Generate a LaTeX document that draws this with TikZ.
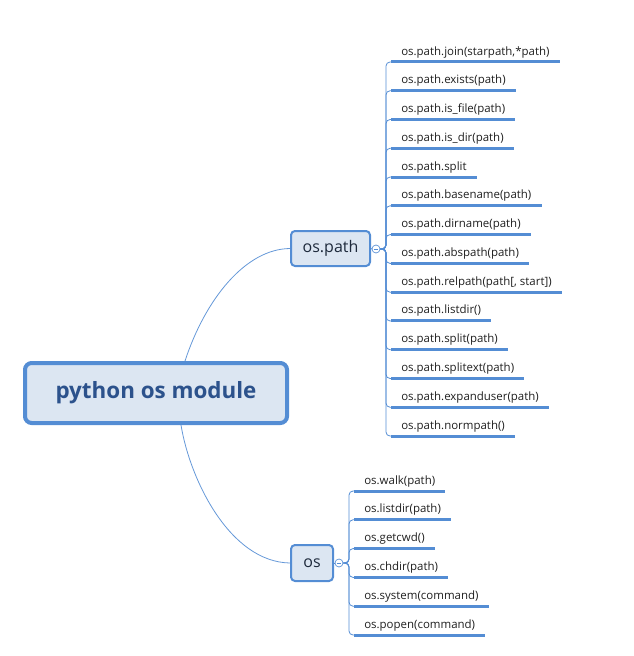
\documentclass[tikz,border=0pt]{standalone}
\usepackage{fontspec}
\setmainfont{Open Sans}
\usetikzlibrary{positioning}
\definecolor{border}{RGB}{84, 141, 212}
\definecolor{light}{RGB}{220, 230, 242}
\definecolor{deep}{RGB}{44, 82, 140}
\definecolor{ink}{RGB}{30, 42, 60}

\tikzset{
  topic/.style={draw=border, fill=light, rounded corners=3pt, line width=1.5pt,
    text=ink, inner sep=0pt},
  leaf/.style={anchor=south west, inner xsep=7.5pt, inner ysep=5pt,
    text height=7pt, text depth=0pt, font=\fontsize{8.6}{10}\selectfont, text=black!88},
  uline/.style={border, line width=2.25pt},
  branch/.style={border, line width=0.6pt, rounded corners=3pt},
  link/.style={border!90, line width=0.6pt},
  fold/.style={circle, draw=border, fill=white, line width=0.5pt,
    minimum size=6pt, inner sep=0pt}
}

\begin{document}
\begin{tikzpicture}[x=0.75pt, y=-0.75pt]
  \useasboundingbox (0,0) rectangle (633,656);

  % central topic
  \node[topic, line width=3pt, rounded corners=5pt, minimum width=196.5pt,
    minimum height=45pt, text=deep, font=\fontsize{16.8}{20}\bfseries\selectfont]
    (root) at (156,393) {python os module};

  % main topics
  \node[topic, minimum width=59.25pt, minimum height=26.25pt,
    font=\fontsize{12}{14}\selectfont] (ospath) at (330.5,248.5) {os.path};
  \node[topic, minimum width=31.5pt, minimum height=27pt,
    font=\fontsize{12}{14}\selectfont] (os) at (312,563) {os};

  % fold markers
  \node[fold] (pc) at (376,249) {};
  \node[fold] (oc) at (339,563) {};
  \draw[border, line width=0.5pt] ([xshift=-1.6pt]pc.center) -- ([xshift=1.6pt]pc.center);
  \draw[border, line width=0.5pt] ([xshift=-1.6pt]oc.center) -- ([xshift=1.6pt]oc.center);
  \draw[branch] (ospath.east) -- (pc.west);
  \draw[branch] (os.east) -- (oc.west);

  % root links
  \coordinate (rtop) at ([xshift=21.75pt]root.north);
  \coordinate (rbot) at ([xshift=18.75pt]root.south);
  \draw[link] (rtop) .. controls (205,300) and (245,249) .. (ospath.west);
  \draw[link] (rbot) .. controls (190,480) and (230,562) .. (os.west);

  % os.path leaves
  \foreach \i/\txt in {1/{os.path.join(starpath,*path)}, 2/{os.path.exists(path)},
                       3/{os.path.is\_file(path)}, 4/{os.path.is\_dir(path)},
                       5/{os.path.split}, 6/{os.path.basename(path)},
                       7/{os.path.dirname(path)}, 8/{os.path.abspath(path)},
                       9/{os.path.relpath(path[, start])}, 10/{os.path.listdir()},
                       11/{os.path.split(path)}, 12/{os.path.splitext(path)},
                       13/{os.path.expanduser(path)}, 14/{os.path.normpath()}} {
    \node[leaf] (p\i) at (391, {62+(\i-1)*28.77}) {\txt};
    \draw[branch] (pc.east) -- (386,249) |- (p\i.south west);
    \draw[uline] (p\i.south west) -- (p\i.south east);
  }

  % os leaves
  \foreach \i/\txt in {1/{os.walk(path)}, 2/{os.listdir(path)}, 3/{os.getcwd()},
                       4/{os.chdir(path)}, 5/{os.system(command)}, 6/{os.popen(command)}} {
    \node[leaf] (q\i) at (354, {491+(\i-1)*28.8}) {\txt};
    \draw[branch] (oc.east) -- (349,563) |- (q\i.south west);
    \draw[uline] (q\i.south west) -- (q\i.south east);
  }

\end{tikzpicture}
\end{document}
